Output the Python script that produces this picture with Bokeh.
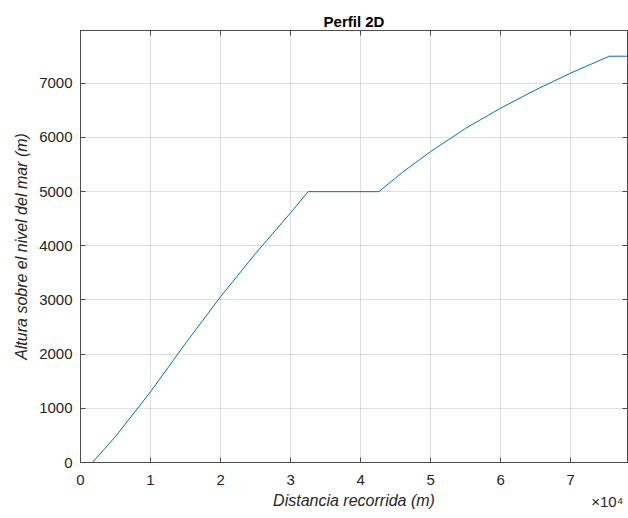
from bokeh.plotting import figure
from bokeh.models import Range1d, LinearAxis, FixedTicker
from bokeh.embed import file_html
from bokeh.resources import INLINE

# Data
distance = [0, 1700, 5000, 10000, 15000, 20000, 25000, 30000, 32500,
            42600, 46000, 50000, 55000, 60000, 65000, 70000, 75500, 78100]
altitude = [0, 0, 480, 1305, 2200, 3060, 3860, 4610, 5000,
            5000, 5360, 5741, 6170, 6543, 6880, 7190, 7500, 7500]

x_ticks = [0, 10000, 20000, 30000, 40000, 50000, 60000, 70000]
x_tick_labels = ["0", "1", "2", "3", "4", "5", "6", "7"]
y_ticks = [0, 1000, 2000, 3000, 4000, 5000, 6000, 7000]

title_text = "Perfil 2D"
x_label = "Distancia recorrida (m)"
y_label = "Altura sobre el nivel del mar (m)"
exponent_pos = 75200
exponent_text = "×10⁴"

FONT = "Liberation Sans"
AX = "#4d4d4d"
TXT = "#262626"

p = figure(width=628, height=518, output_backend="svg", toolbar_location=None,
           x_range=Range1d(0, 78100), y_range=Range1d(0, 7975),
           min_border_left=80, min_border_right=1, min_border_top=30, min_border_bottom=56,
           x_axis_location=None, y_axis_location=None)

p.title.text = title_text
p.title.align = "center"
p.title.text_font = FONT
p.title.text_font_size = "15px"
p.title.text_font_style = "bold"
p.title.text_color = "#000000"
p.title.standoff = 2
p.title.offset = 0

p.background_fill_color = "white"
p.border_fill_color = "white"
p.outline_line_color = AX

p.line(distance, altitude, line_color="#0072BD", line_width=1)

def style_axis(ax, labels=True):
    ax.axis_line_color = AX
    ax.major_tick_line_color = AX
    ax.major_tick_in = 5
    ax.major_tick_out = 0
    ax.minor_tick_line_color = None
    ax.major_label_text_font = FONT
    ax.major_label_text_color = TXT
    ax.major_label_text_font_size = "15px"
    if not labels:
        ax.major_label_overrides = {t: "" for t in ax.ticker.ticks}
        ax.major_label_standoff = 0

# bottom axis: ticks and tick labels
xb = LinearAxis(ticker=FixedTicker(ticks=x_ticks))
style_axis(xb)
xb.major_label_overrides = {t: l for t, l in zip(x_ticks, x_tick_labels)}
xb.major_label_standoff = 12
p.add_layout(xb, "below")

# second bottom row: exponent marker and axis title
xe = LinearAxis(ticker=FixedTicker(ticks=[exponent_pos]))
xe.axis_line_color = None
xe.major_tick_line_color = None
xe.major_tick_in = 0
xe.major_tick_out = 0
xe.minor_tick_line_color = None
xe.major_label_overrides = {exponent_pos: exponent_text}
xe.major_label_text_font = FONT
xe.major_label_text_font_size = "15px"
xe.major_label_text_color = TXT
xe.major_label_standoff = 5
xe.axis_label = x_label
xe.axis_label_text_font = FONT
xe.axis_label_text_font_style = "italic"
xe.axis_label_text_font_size = "16px"
xe.axis_label_text_color = TXT
xe.axis_label_standoff = -21
p.add_layout(xe, "below")

yl = LinearAxis(ticker=FixedTicker(ticks=y_ticks))
style_axis(yl)
yl.major_label_standoff = 8
yl.axis_label = y_label
yl.axis_label_text_font = FONT
yl.axis_label_text_font_style = "italic"
yl.axis_label_text_font_size = "16px"
yl.axis_label_text_color = TXT
yl.axis_label_standoff = 6
p.add_layout(yl, "left")

xt = LinearAxis(ticker=FixedTicker(ticks=x_ticks))
style_axis(xt, labels=False)
p.add_layout(xt, "above")

yr = LinearAxis(ticker=FixedTicker(ticks=y_ticks))
style_axis(yr, labels=False)
p.add_layout(yr, "right")

p.xgrid.ticker = FixedTicker(ticks=x_ticks)
p.ygrid.ticker = FixedTicker(ticks=y_ticks)
for g in (p.xgrid, p.ygrid):
    g.grid_line_color = "#262626"
    g.grid_line_alpha = 0.15
    g.grid_line_width = 1

open("out.html", "w").write(file_html(p, INLINE))
